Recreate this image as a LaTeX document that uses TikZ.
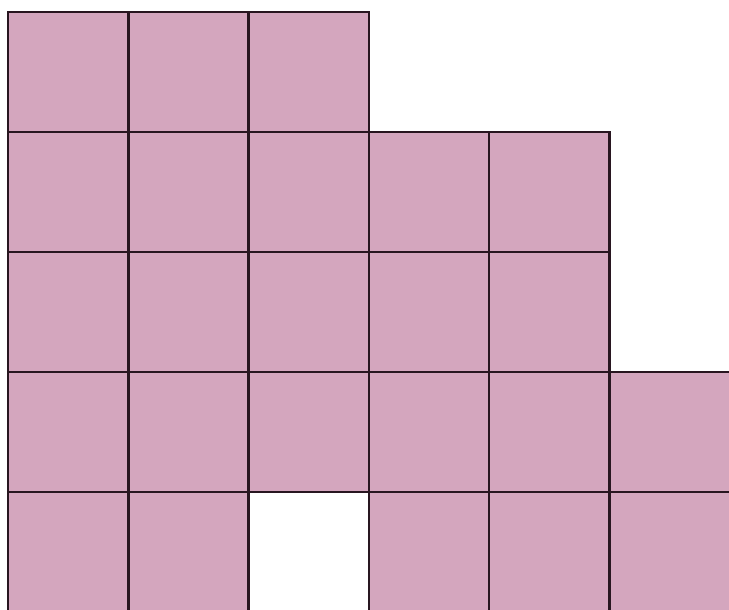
\documentclass[tikz,border=0pt]{standalone}
\definecolor{cellpink}{RGB}{212,166,190}
\definecolor{gridline}{RGB}{40,22,32}
\tikzset{cell/.style={fill=cellpink,draw=gridline,line width=1.4pt}}
\begin{document}
\begin{tikzpicture}[x=0.02cm,y=-0.02cm]
\useasboundingbox (0,0) rectangle (729,609);
\clip (0,0) rectangle (729,609);
\def\cw{120.3}
\def\ch{120}
% row, list of columns
\foreach \r/\cols in {0/{0,1,2},1/{0,1,2,3,4},2/{0,1,2,3,4},3/{0,1,2,3,4,5},4/{0,1,3,4,5}}{
  \foreach \c in \cols {
    \draw[cell] ({8+\c*\cw},{12+\r*\ch}) rectangle ++(\cw,\ch);
  }
}
\end{tikzpicture}
\end{document}
